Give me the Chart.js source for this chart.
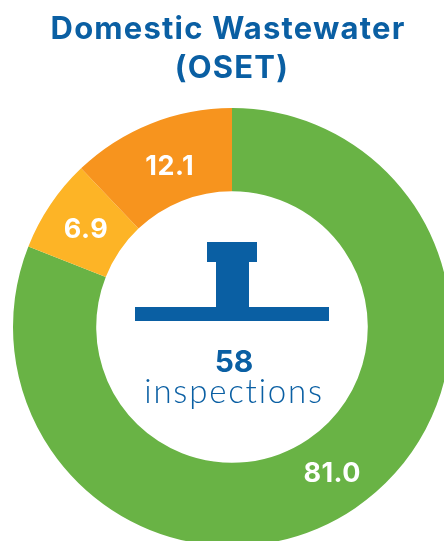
<!DOCTYPE html>
<html>
<head>
<meta charset="utf-8">
<style>
html,body{margin:0;padding:0;background:#fff;overflow:hidden}
#wrap{position:relative;width:444px;height:541px;overflow:hidden}
canvas{display:block}
</style>
<script src="https://cdn.jsdelivr.net/npm/chart.js@4"></script>
</head>
<body>
<div id="wrap"><canvas id="c" width="464" height="654"></canvas></div>
<script>
const categories = ["Good", "Fair", "Poor"];
const values = [81.0, 6.9, 12.1];
const valueLabels = ["81.0", "6.9", "12.1"];
const titleLines = ["Domestic Wastewater", "(OSET)"];
const centerCount = "58";
const centerUnit = "inspections";
const sliceColors = ["#69b345", "#fdb426", "#f7941e"];
const BLUE = "#0a5fa3";

const annotations = {
  id: "annotations",
  afterDatasetsDraw(chart) {
    const ctx = chart.ctx;
    const arcs = chart.getDatasetMeta(0).data;
    const nudge = [[0.5, 8], [1, 10.5], [3.5, 12.5]];
    ctx.save();
    ctx.textAlign = "center";
    ctx.textBaseline = "alphabetic";

    // slice labels
    ctx.fillStyle = "#fff";
    ctx.font = "700 27px Inter, sans-serif";
    ctx.letterSpacing = "0.5px";
    arcs.forEach((arc, i) => {
      const p = arc.getCenterPoint();
      ctx.fillText(valueLabels[i], p.x + nudge[i][0], p.y + nudge[i][1]);
    });

    // title
    ctx.fillStyle = BLUE;
    ctx.font = "700 31px Inter, sans-serif";
    ctx.letterSpacing = "1.2px";
    ctx.fillText(titleLines[0], 228, 39);
    ctx.fillText(titleLines[1], 232, 78);

    // pipe icon
    ctx.fillRect(207, 242, 50, 20);
    ctx.fillRect(216, 262, 33, 46);
    ctx.fillRect(135, 307, 194, 14);

    // centre text
    ctx.letterSpacing = "0px";
    ctx.font = "700 30px Inter, sans-serif";
    ctx.fillText(centerCount, 234, 372);
    ctx.font = "300 33px Lato, sans-serif";
    ctx.letterSpacing = "1.8px";
    ctx.fillText(centerUnit, 234, 403);
    ctx.restore();
  }
};

new Chart(document.getElementById("c"), {
  type: "doughnut",
  data: {
    labels: categories,
    datasets: [{
      data: values,
      backgroundColor: sliceColors,
      borderWidth: 0
    }]
  },
  options: {
    responsive: false,
    animation: false,
    cutout: "62%",
    layout: { padding: { left: 13, right: 13, top: 108, bottom: 108 } },
    plugins: { legend: { display: false }, tooltip: { enabled: false } }
  },
  plugins: [annotations]
});
</script>
</body>
</html>
